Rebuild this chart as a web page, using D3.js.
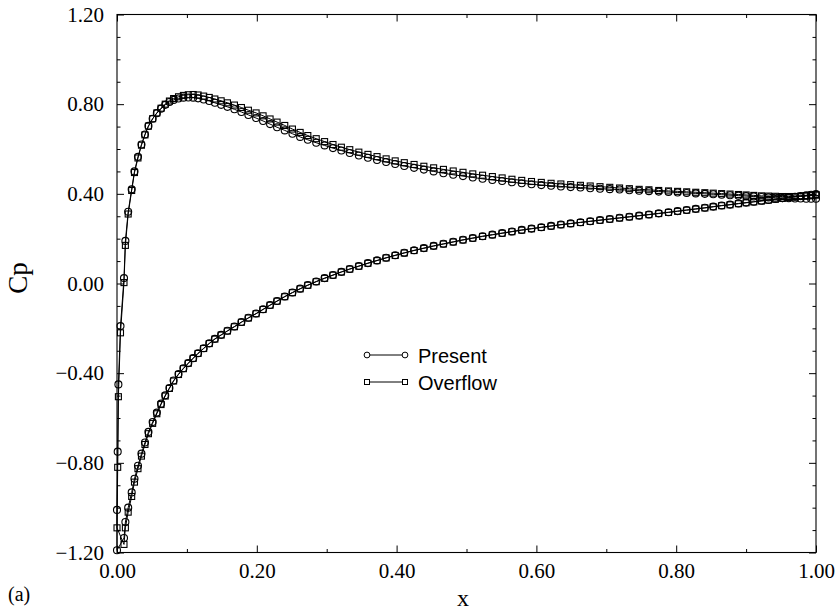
<!DOCTYPE html>
<html>
<head>
<meta charset="utf-8">
<script src="https://cdn.jsdelivr.net/npm/d3@7/dist/d3.min.js"></script>
<style>
  body { margin: 0; background: #fff; }
  svg { display: block; }
</style>
</head>
<body>
<svg id="chart" width="838" height="614"></svg>
<script>
// Chordwise stations shared by both surfaces (x/c)
const xStations = [
  0.010, 0.012, 0.016, 0.021, 0.025, 0.030, 0.035, 0.040, 0.045, 0.051,
  0.057, 0.063, 0.069, 0.075, 0.081, 0.088, 0.095, 0.102, 0.109, 0.116,
  0.124, 0.132, 0.140, 0.149, 0.158, 0.168, 0.178, 0.188, 0.199, 0.209,
  0.219, 0.229,
  0.240, 0.251, 0.262, 0.273, 0.285, 0.297, 0.309, 0.321, 0.333, 0.346,
  0.359, 0.372, 0.385, 0.398, 0.411, 0.425, 0.439, 0.453, 0.467, 0.481,
  0.495, 0.509, 0.523, 0.537, 0.551, 0.565, 0.579, 0.593, 0.607, 0.621,
  0.635, 0.649, 0.663, 0.677, 0.691, 0.705, 0.719, 0.733, 0.747, 0.761,
  0.775, 0.789, 0.802, 0.815, 0.828, 0.841, 0.853, 0.865, 0.877, 0.889,
  0.900, 0.911, 0.922, 0.932, 0.942, 0.952, 0.961, 0.970, 0.978, 0.986,
  0.993, 1.000
];

// Present solution
const presentUpper = [
  0.024, 0.190, 0.320, 0.420, 0.500, 0.565, 0.620, 0.665, 0.703, 0.735,
  0.760, 0.780, 0.797, 0.810, 0.819, 0.825, 0.829, 0.830, 0.829, 0.826,
  0.821, 0.814, 0.806, 0.797, 0.788, 0.777, 0.765, 0.752, 0.738, 0.725,
  0.711, 0.697,
  0.683, 0.668, 0.654, 0.641, 0.628, 0.616, 0.604, 0.593, 0.582, 0.571,
  0.561, 0.551, 0.542, 0.533, 0.524, 0.516, 0.508, 0.500, 0.492, 0.485,
  0.479, 0.473, 0.467, 0.462, 0.457, 0.452, 0.447, 0.443, 0.439, 0.436,
  0.433, 0.430, 0.428, 0.425, 0.423, 0.421, 0.419, 0.416, 0.414, 0.412,
  0.410, 0.408, 0.406, 0.404, 0.402, 0.400, 0.398, 0.396, 0.394, 0.392,
  0.390, 0.388, 0.386, 0.384, 0.383, 0.381, 0.380, 0.379, 0.379, 0.378,
  0.378, 0.378
];
const presentLower = [
  -1.135, -1.064, -1.000, -0.932, -0.871, -0.813, -0.759, -0.709, -0.662, -0.618,
  -0.576, -0.536, -0.499, -0.466, -0.433, -0.404, -0.378, -0.355, -0.333, -0.311,
  -0.289, -0.267, -0.247, -0.229, -0.211, -0.192, -0.172, -0.153, -0.134, -0.115,
  -0.096, -0.078,
  -0.058, -0.040, -0.023, -0.007, 0.009, 0.024, 0.038, 0.052, 0.065, 0.078,
  0.091, 0.103, 0.115, 0.126, 0.137, 0.148, 0.158, 0.168, 0.177, 0.186,
  0.195, 0.203, 0.211, 0.218, 0.225, 0.232, 0.239, 0.245, 0.251, 0.257,
  0.263, 0.268, 0.273, 0.278, 0.283, 0.288, 0.293, 0.298, 0.303, 0.308,
  0.313, 0.318, 0.323, 0.328, 0.333, 0.338, 0.343, 0.348, 0.352, 0.357,
  0.361, 0.365, 0.369, 0.373, 0.377, 0.381, 0.384, 0.387, 0.390, 0.393,
  0.396, 0.399
];
// Points around the leading edge, from the stagnation region upward
const presentNoseX  = [0.000, 0.000, 0.001, 0.002, 0.005];
const presentNoseCp = [-1.19, -1.01, -0.75, -0.45, -0.19];

// Overflow solution
const overflowUpper = [
  0.004, 0.170, 0.310, 0.415, 0.495, 0.560, 0.617, 0.663, 0.702, 0.735,
  0.761, 0.782, 0.800, 0.814, 0.825, 0.833, 0.839, 0.842, 0.843, 0.841,
  0.836, 0.830, 0.823, 0.815, 0.806, 0.796, 0.785, 0.773, 0.761, 0.748,
  0.734, 0.720,
  0.705, 0.689, 0.674, 0.660, 0.646, 0.633, 0.620, 0.608, 0.597, 0.586,
  0.576, 0.566, 0.556, 0.547, 0.539, 0.531, 0.523, 0.516, 0.509, 0.502,
  0.496, 0.489, 0.483, 0.477, 0.471, 0.465, 0.460, 0.455, 0.451, 0.447,
  0.444, 0.441, 0.438, 0.435, 0.432, 0.429, 0.426, 0.423, 0.420, 0.418,
  0.415, 0.413, 0.411, 0.409, 0.407, 0.405, 0.403, 0.401, 0.399, 0.397,
  0.395, 0.393, 0.391, 0.390, 0.389, 0.388, 0.388, 0.388, 0.389, 0.390,
  0.392, 0.394
];
const overflowLower = [
  -1.164, -1.090, -1.020, -0.950, -0.886, -0.826, -0.770, -0.718, -0.670, -0.624,
  -0.581, -0.540, -0.502, -0.468, -0.435, -0.406, -0.380, -0.356, -0.334, -0.312,
  -0.290, -0.268, -0.248, -0.230, -0.212, -0.193, -0.173, -0.154, -0.135, -0.116,
  -0.097, -0.079,
  -0.059, -0.041, -0.024, -0.008, 0.008, 0.023, 0.037, 0.051, 0.064, 0.077,
  0.090, 0.102, 0.114, 0.125, 0.136, 0.147, 0.157, 0.167, 0.176, 0.185,
  0.194, 0.202, 0.210, 0.217, 0.224, 0.231, 0.238, 0.244, 0.250, 0.256,
  0.262, 0.267, 0.272, 0.277, 0.282, 0.287, 0.292, 0.297, 0.302, 0.307,
  0.312, 0.317, 0.322, 0.327, 0.332, 0.337, 0.342, 0.347, 0.351, 0.356,
  0.360, 0.364, 0.368, 0.372, 0.376, 0.380, 0.383, 0.386, 0.389, 0.392,
  0.395, 0.397
];
const overflowNoseX  = [0.000, 0.001, 0.002, 0.005];
const overflowNoseCp = [-1.09, -0.82, -0.505, -0.22];

// Axis ticks
const xMajorTicks = [0, 0.2, 0.4, 0.6, 0.8, 1.0];
const xMinorTicks = [0.1, 0.3, 0.5, 0.7, 0.9];
const yMajorTicks = [-1.2, -0.8, -0.4, 0, 0.4, 0.8, 1.2];
const yMinorTicks = [-1.1, -1.0, -0.9, -0.7, -0.6, -0.5, -0.3, -0.2, -0.1,
                     0.1, 0.2, 0.3, 0.5, 0.6, 0.7, 0.9, 1.0, 1.1];

const seriesNames = ["Present", "Overflow"];

// One walk per solution: lower surface from the trailing edge forward,
// around the nose, then back along the upper surface.
function buildSeries(upper, lower, noseX, noseCp) {
  const pts = [];
  for (let i = xStations.length - 1; i >= 0; i--) pts.push([xStations[i], lower[i]]);
  noseX.forEach((xv, i) => pts.push([xv, noseCp[i]]));
  xStations.forEach((xv, i) => pts.push([xv, upper[i]]));
  return pts;
}
const presentPts = buildSeries(presentUpper, presentLower, presentNoseX, presentNoseCp);
const overflowPts = buildSeries(overflowUpper, overflowLower, overflowNoseX, overflowNoseCp);

const svg = d3.select("#chart");
const plot = { left: 117, right: 816, top: 14.5, bottom: 552.5 };
const x = d3.scaleLinear().domain([0, 1]).range([plot.left, plot.right]);
const y = d3.scaleLinear().domain([-1.2, 1.2]).range([plot.bottom, plot.top]);

const serif = "'Liberation Serif', 'Times New Roman', serif";
const sans = "'Liberation Sans', Arial, sans-serif";
const fmt = d3.format(".2f");

// Axes: ticks point inward on all four sides
function styleAxis(g) {
  g.select(".domain").remove();
  g.selectAll(".tick line").attr("stroke", "#000").attr("stroke-width", 1);
  g.selectAll(".tick text").attr("fill", "#000").attr("font-family", serif).attr("font-size", 21);
}

svg.append("g").attr("transform", `translate(0,${plot.bottom})`)
  .call(d3.axisBottom(x).tickValues(xMajorTicks).tickSize(-7).tickSizeOuter(0)
        .tickPadding(11).tickFormat(fmt))
  .call(styleAxis);
svg.append("g").attr("transform", `translate(0,${plot.bottom})`)
  .call(d3.axisBottom(x).tickValues(xMinorTicks).tickSize(-3.5).tickSizeOuter(0).tickFormat(""))
  .call(styleAxis);
svg.append("g").attr("transform", `translate(0,${plot.top})`)
  .call(d3.axisTop(x).tickValues(xMajorTicks).tickSize(-7).tickSizeOuter(0).tickFormat(""))
  .call(styleAxis);
svg.append("g").attr("transform", `translate(0,${plot.top})`)
  .call(d3.axisTop(x).tickValues(xMinorTicks).tickSize(-3.5).tickSizeOuter(0).tickFormat(""))
  .call(styleAxis);

svg.append("g").attr("transform", `translate(${plot.left},0)`)
  .call(d3.axisLeft(y).tickValues(yMajorTicks).tickSize(-7).tickSizeOuter(0)
        .tickPadding(13).tickFormat(fmt))
  .call(styleAxis);
svg.append("g").attr("transform", `translate(${plot.left},0)`)
  .call(d3.axisLeft(y).tickValues(yMinorTicks).tickSize(-3.5).tickSizeOuter(0).tickFormat(""))
  .call(styleAxis);
svg.append("g").attr("transform", `translate(${plot.right},0)`)
  .call(d3.axisRight(y).tickValues(yMajorTicks).tickSize(-7).tickSizeOuter(0).tickFormat(""))
  .call(styleAxis);
svg.append("g").attr("transform", `translate(${plot.right},0)`)
  .call(d3.axisRight(y).tickValues(yMinorTicks).tickSize(-3.5).tickSizeOuter(0).tickFormat(""))
  .call(styleAxis);

// Frame
svg.append("rect")
  .attr("x", plot.left).attr("y", plot.top)
  .attr("width", plot.right - plot.left).attr("height", plot.bottom - plot.top)
  .attr("fill", "none").attr("stroke", "#000").attr("stroke-width", 1.1);

// Curves
const line = d3.line().x(d => x(d[0])).y(d => y(d[1]));
const curves = svg.append("g");
[overflowPts, presentPts].forEach(pts => {
  curves.append("path").datum(pts).attr("d", line)
    .attr("fill", "none").attr("stroke", "#000").attr("stroke-width", 1);
});

// Markers
const squareSize = 6;
curves.append("g").selectAll("rect").data(overflowPts).join("rect")
  .attr("x", d => x(d[0]) - squareSize / 2).attr("y", d => y(d[1]) - squareSize / 2)
  .attr("width", squareSize).attr("height", squareSize)
  .attr("fill", "none").attr("stroke", "#000").attr("stroke-width", 1.1);
curves.append("g").selectAll("circle").data(presentPts).join("circle")
  .attr("cx", d => x(d[0])).attr("cy", d => y(d[1])).attr("r", 3.5)
  .attr("fill", "none").attr("stroke", "#000").attr("stroke-width", 1.1);

// Legend
const legend = svg.append("g");
const legendRows = [{ name: seriesNames[0], y: 355, marker: "circle" },
                    { name: seriesNames[1], y: 382, marker: "square" }];
legendRows.forEach(r => {
  legend.append("line").attr("x1", 367).attr("x2", 405).attr("y1", r.y).attr("y2", r.y)
    .attr("stroke", "#000").attr("stroke-width", 1);
  [367, 405].forEach(mx => {
    if (r.marker === "circle") {
      legend.append("circle").attr("cx", mx).attr("cy", r.y).attr("r", 2.9)
        .attr("fill", "#fff").attr("stroke", "#000").attr("stroke-width", 1);
    } else {
      legend.append("rect").attr("x", mx - 2.5).attr("y", r.y - 2.5).attr("width", 5).attr("height", 5)
        .attr("fill", "#fff").attr("stroke", "#000").attr("stroke-width", 1);
    }
  });
  legend.append("text").attr("x", 418).attr("y", r.y + 7.5)
    .attr("font-family", sans).attr("font-size", 20).attr("fill", "#000").text(r.name);
});

// Axis titles
svg.append("text").attr("transform", "translate(27,278) rotate(-90)")
  .attr("text-anchor", "middle").attr("font-family", serif).attr("font-size", 27)
  .attr("fill", "#000").text("Cp");
svg.append("text").attr("x", 463).attr("y", 606)
  .attr("text-anchor", "middle").attr("font-family", serif).attr("font-size", 24)
  .attr("fill", "#000").text("x");
svg.append("text").attr("x", 8).attr("y", 601)
  .attr("font-family", serif).attr("font-size", 20)
  .attr("fill", "#000").text("(a)");
</script>
</body>
</html>
